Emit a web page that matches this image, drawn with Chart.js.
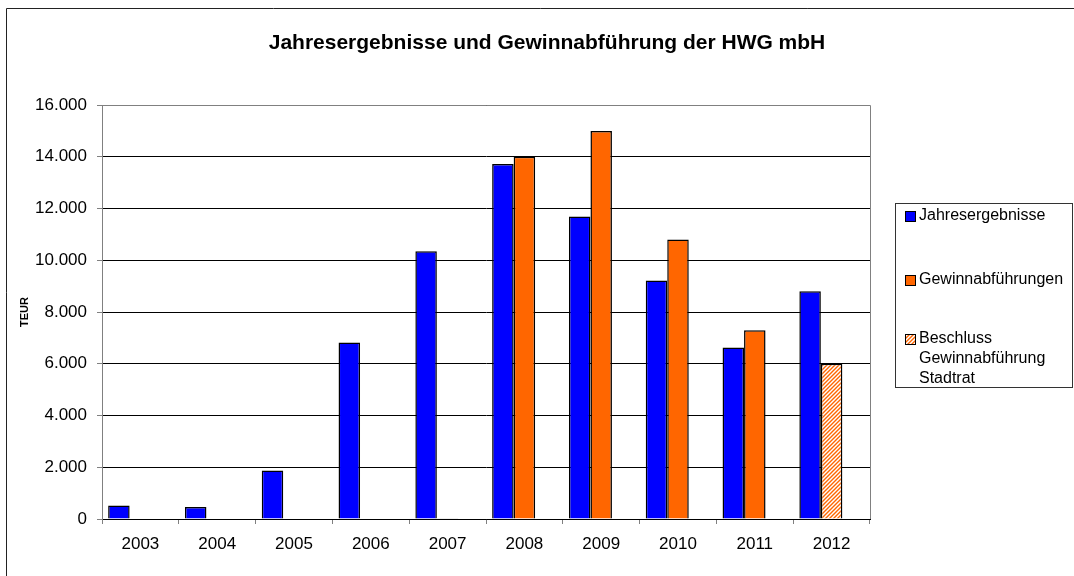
<!DOCTYPE html>
<html>
<head>
<meta charset="utf-8">
<script src="https://cdn.jsdelivr.net/npm/chart.js@4/dist/chart.umd.min.js"></script>
<style>
  html, body { margin: 0; padding: 0; background: #fff; }
  #wrap { width: 1074px; height: 576px; position: relative; }
</style>
</head>
<body>
<div id="wrap"><canvas id="chart" width="1074" height="576"></canvas></div>
<script>
const years = ["2003", "2004", "2005", "2006", "2007", "2008", "2009", "2010", "2011", "2012"];
const jahresergebnisse = [520, 460, 1870, 6820, 10350, 13720, 11690, 9220, 6630, 8800];
const gewinnabfuehrungen = [null, null, null, null, 10, 14000, 15000, 10800, 7290, null];
const beschluss = [null, null, null, null, null, null, null, null, null, 6000];
const yTicks = [0, 2000, 4000, 6000, 8000, 10000, 12000, 14000, 16000];

const FONT = 'Arial, "Liberation Sans", sans-serif';

// hatched fill for the Stadtrat decision
function makeHatch() {
  const c = document.createElement("canvas");
  c.width = 4; c.height = 4;
  const g = c.getContext("2d");
  g.fillStyle = "#fff";
  g.fillRect(0, 0, 4, 4);
  g.strokeStyle = "#FF6600";
  g.lineWidth = 1.4;
  g.beginPath();
  g.moveTo(-1, 5); g.lineTo(5, -1);
  g.moveTo(-3, 3); g.lineTo(3, -3);
  g.moveTo(1, 7); g.lineTo(7, 1);
  g.stroke();
  return g.createPattern(c, "repeat");
}
const hatch = makeHatch();

function fmt(v) {
  return String(v).replace(/\B(?=(\d{3})+(?!\d))/g, ".");
}

const framePlugin = {
  id: "frame",
  beforeDraw(chart) {
    const ctx = chart.ctx;
    ctx.save();
    ctx.strokeStyle = "#222";
    ctx.lineWidth = 1;
    ctx.beginPath();
    ctx.moveTo(6.5, 576); ctx.lineTo(6.5, 8.5); ctx.lineTo(1074, 8.5);
    ctx.stroke();
    // title
    ctx.fillStyle = "#000";
    ctx.font = "bold 21px " + FONT;
    ctx.textAlign = "center";
    ctx.textBaseline = "middle";
    ctx.fillText("Jahresergebnisse und Gewinnabführung der HWG mbH", 547, 43);
    ctx.restore();
  },
  beforeDatasetsDraw(chart) {
    const { ctx, chartArea: a } = chart;
    ctx.save();
    ctx.strokeStyle = "#808080";
    ctx.lineWidth = 1;
    ctx.beginPath();
    ctx.moveTo(a.left, Math.round(a.top) + 0.5);
    ctx.lineTo(Math.round(a.right) + 0.5, Math.round(a.top) + 0.5);
    ctx.lineTo(Math.round(a.right) + 0.5, a.bottom);
    ctx.stroke();
    ctx.restore();
  },
  afterDraw(chart) {
    const ctx = chart.ctx;
    ctx.save();
    ctx.strokeStyle = "#333";
    ctx.lineWidth = 1;
    ctx.strokeRect(895.5, 203.5, 177, 184);
    const items = [
      { ds: 0, y: 216, lines: ["Jahresergebnisse"] },
      { ds: 1, y: 280, lines: ["Gewinnabführungen"] },
      { ds: 2, y: 339, lines: ["Beschluss", "Gewinnabführung", "Stadtrat"] }
    ];
    ctx.font = "16px " + FONT;
    ctx.textBaseline = "middle";
    ctx.textAlign = "left";
    items.forEach(it => {
      const d = chart.data.datasets[it.ds];
      ctx.fillStyle = d.legendFill;
      ctx.fillRect(905, it.y - 5, 11, 11);
      ctx.strokeStyle = "#000";
      ctx.strokeRect(905.5, it.y - 4.5, 10, 10);
      ctx.fillStyle = "#000";
      it.lines.forEach((t, i) => ctx.fillText(t, 919, it.y + i * 20));
    });
    ctx.restore();
  }
};

new Chart(document.getElementById("chart"), {
  type: "bar",
  data: {
    labels: years,
    datasets: [
      { label: "Jahresergebnisse", data: jahresergebnisse, stack: "a",
        backgroundColor: "#0000FF", legendFill: "#0000FF", borderColor: "#000", borderWidth: 1.5 },
      { label: "Gewinnabführungen", data: gewinnabfuehrungen, stack: "b",
        backgroundColor: "#FF6600", legendFill: "#FF6600", borderColor: "#000", borderWidth: 1.5 },
      { label: "Beschluss Gewinnabführung Stadtrat", data: beschluss, stack: "b",
        backgroundColor: hatch, legendFill: hatch, borderColor: "#000", borderWidth: 1.5 },
      // empty third slot, as in the original Excel chart
      { label: "", data: years.map(() => null), stack: "c", backgroundColor: "transparent" }
    ]
  },
  options: {
    responsive: false,
    animation: false,
    categoryPercentage: 0.84,
    barPercentage: 1.0,
    layout: { padding: { top: 105, right: 204, left: 0, bottom: 0 } },
    plugins: {
      legend: { display: false },
      title: { display: false },
      tooltip: { enabled: false }
    },
    scales: {
      x: {
        stacked: true,
        afterFit: (s) => { s.height = 57; },
        grid: { display: true, offset: true, drawOnChartArea: false, tickLength: 5, tickColor: "#808080" },
        border: { color: "#000" },
        ticks: { color: "#000", font: { family: FONT, size: 17 }, padding: 10, maxRotation: 0 }
      },
      y: {
        stacked: false,
        min: 0,
        max: 16000,
        afterFit: (s) => { s.width = 102; },
        afterBuildTicks: (s) => { s.ticks = yTicks.map(v => ({ value: v })); },
        grid: { color: "#000", tickLength: 5, tickColor: "#808080" },
        border: { color: "#808080" },
        ticks: { color: "#000", font: { family: FONT, size: 17 }, padding: 10, callback: (v) => fmt(v) },
        title: { display: true, text: "TEUR", color: "#000", font: { family: FONT, size: 11, weight: "bold" }, padding: { top: 18, bottom: 0 } }
      }
    }
  },
  plugins: [framePlugin]
});
</script>
</body>
</html>
